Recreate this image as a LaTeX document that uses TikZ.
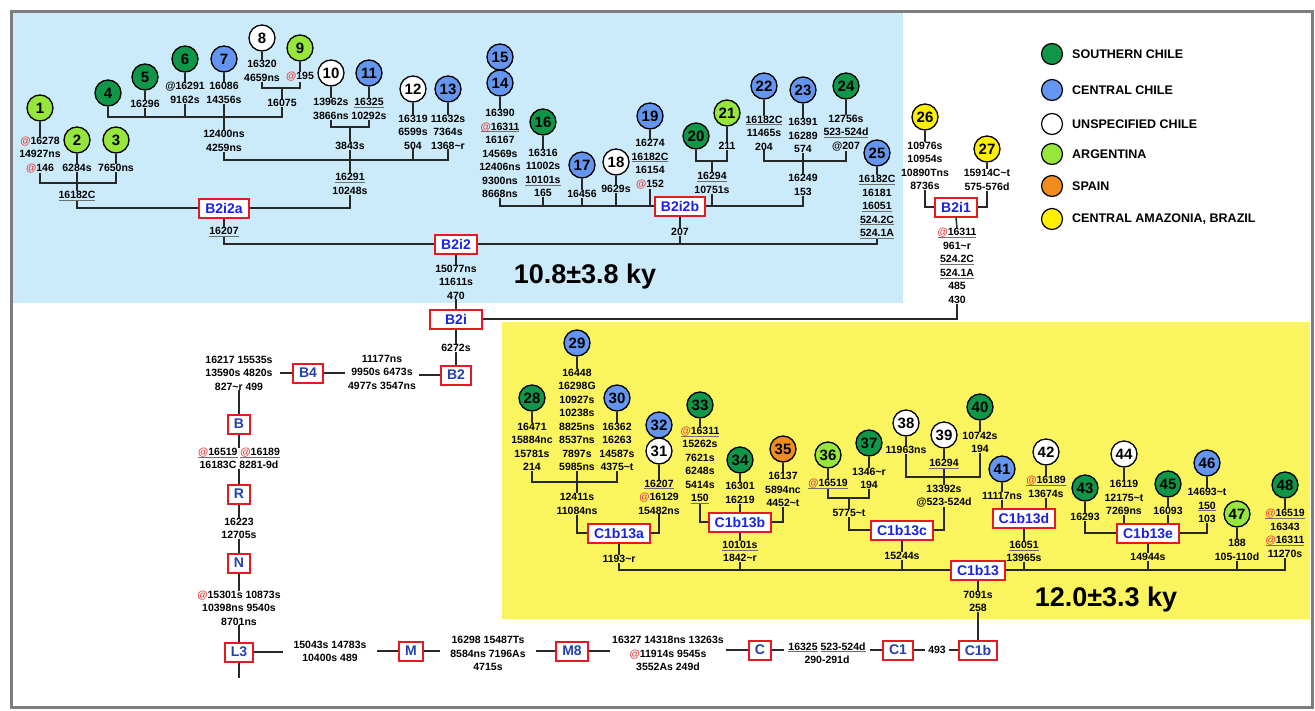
\documentclass[tikz,border=0pt]{standalone}
\usepackage{fontspec}
\setmainfont{Liberation Sans}
\usetikzlibrary{calc}
\definecolor{bgblue}{RGB}{204,235,250}
\definecolor{bgyellow}{RGB}{250,245,95}
\definecolor{scg}{RGB}{16,150,72}
\definecolor{ccb}{RGB}{100,150,240}
\definecolor{arg}{RGB}{150,230,60}
\definecolor{spo}{RGB}{240,140,30}
\definecolor{amy}{RGB}{255,240,0}
\definecolor{boxred}{RGB}{230,25,35}
\definecolor{hgblue}{RGB}{25,35,225}
\definecolor{hgdark}{RGB}{35,65,175}
\definecolor{atred}{RGB}{230,60,60}
\definecolor{ulgray}{RGB}{110,110,110}
\definecolor{lncol}{RGB}{40,40,40}
\definecolor{framegray}{RGB}{125,125,125}
\newcommand\rat{\textcolor{atred}{@}}
\newcommand\tld{\char"007E\relax}
\newcommand\myul[1]{\begingroup\setbox0=\hbox{#1}\rlap{\textcolor{ulgray}{\rule[-2.3pt]{\wd0}{1.1pt}}}\box0\endgroup}
\begin{document}
\begin{tikzpicture}[x=1pt,y=-1pt,
  hcn/.style={circle,draw=black,line width=1.3pt,minimum size=26pt,inner sep=0pt,font=\fontsize{15}{15}\selectfont\bfseries},
  hsc/.style={hcn,fill=scg}, hcc/.style={hcn,fill=ccb}, huc/.style={hcn,fill=white},
  har/.style={hcn,fill=arg}, hsp/.style={hcn,fill=spo}, ham/.style={hcn,fill=amy},
  hlab/.style={align=center,inner sep=0pt,font=\fontsize{10.5}{13.5}\selectfont\bfseries},
  hbox/.style={draw=boxred,line width=2pt,fill=white,text=hgblue,font=\fontsize{14}{14}\selectfont\bfseries,inner xsep=6pt,inner ysep=0pt,minimum height=19pt},
  hboxd/.style={hbox,text=hgdark},
  hline/.style={draw=lncol,line width=1.5pt},
  hleg/.style={circle,draw=black,line width=1.2pt,minimum size=21pt,inner sep=0pt},
  hlegt/.style={anchor=west,inner sep=0pt,font=\fontsize{12.5}{13}\selectfont\bfseries},
  hage/.style={inner sep=0pt,font=\fontsize{27}{27}\selectfont\bfseries}]
\useasboundingbox (0,0) rectangle (1315,710);
\fill[white] (0,0) rectangle (1315,710);
\fill[bgblue] (13,13) rectangle (903,303);
\fill[bgyellow] (502,322) rectangle (1310,619);
\draw[framegray,line width=3pt] (11.5,11.5) rectangle (1312,707.5);

% ---------- B2i2a ----------
\node[har] (n1) at (40,108) {1};
\node[hlab] (l1) at (40,155) {\rat16278\\14927ns\\\rat146};
\node[har] (n2) at (77,140) {2};
\node[hlab] (l2) at (77,168) {6284s};
\node[har] (n3) at (116,140) {3};
\node[hlab] (l3) at (116,168) {7650ns};
\coordinate (j1) at (77,183);
\node[hlab] (k1) at (77,196) {\myul{16182C}};
\node[hsc] (n4) at (108,93) {4};
\node[hsc] (n5) at (145,77) {5};
\node[hlab] (l5) at (145,104) {16296};
\node[hsc] (n6) at (185,59) {6};
\node[hlab] (l6) at (185,93) {@16291\\9162s};
\node[hcc] (n7) at (224,59) {7};
\node[hlab] (l7) at (224,93) {16086\\14356s};
\node[huc] (n8) at (262,38) {8};
\node[hlab] (l8) at (262,71) {16320\\4659ns};
\node[har] (n9) at (300,48) {9};
\node[hlab] (l9) at (300,77) {\rat195};
\coordinate (j89) at (282,88);
\node[hlab] (k4) at (282,103) {16075};
\coordinate (j4) at (224,117);
\node[hlab] (k5) at (224,141) {12400ns\\4259ns};
\node[huc] (n10) at (331,73) {10};
\node[hlab] (l10) at (331,109) {13962s\\3866ns};
\node[hcc] (n11) at (369,73) {11};
\node[hlab] (l11) at (369,109) {\myul{16325}\\10292s};
\coordinate (j1011) at (350,127);
\node[hlab] (k6) at (350,146) {3843s};
\node[huc] (n12) at (413,89) {12};
\node[hlab] (l12) at (413,132) {16319\\6599s\\504};
\node[hcc] (n13) at (448,89) {13};
\node[hlab] (l13) at (448,132) {11632s\\7364s\\1368\tld r};
\coordinate (j2) at (350,160);
\node[hlab] (k2) at (350,184) {\myul{16291}\\10248s};
\node[hbox] (B2i2a) at (224,208) {B2i2a};
\node[hlab] (k3) at (224,232) {\myul{16207}};

% ---------- B2i2b ----------
\node[hcc] (n15) at (500,57) {15};
\node[hcc] (n14) at (500,83) {14};
\node[hlab] (l14) at (500,153.5) {16390\\\myul{\rat16311}\\16167\\14569s\\12406ns\\9300ns\\8668ns};
\node[hsc] (n16) at (543,122) {16};
\node[hlab] (l16) at (543,173) {16316\\11002s\\\myul{10101s}\\165};
\node[hcc] (n17) at (582,165) {17};
\node[hlab] (l17) at (582,194) {16456};
\node[huc] (n18) at (616,162) {18};
\node[hlab] (l18) at (616,189) {9629s};
\node[hcc] (n19) at (650,116) {19};
\node[hlab] (l19) at (650,164) {16274\\\myul{16182C}\\16154\\\rat152};
\node[hbox] (B2i2b) at (680,206) {B2i2b};
\node[hsc] (n20) at (696,136) {20};
\node[har] (n21) at (727,113) {21};
\node[hlab] (l21) at (727,146) {211};
\coordinate (j2021) at (712,161);
\node[hlab] (k7) at (712,183) {\myul{16294}\\10751s};
\node[hcc] (n22) at (764,86) {22};
\node[hlab] (l22) at (764,133) {\myul{16182C}\\11465s\\204};
\node[hcc] (n23) at (803,90) {23};
\node[hlab] (l23) at (803,135.5) {16391\\16289\\574};
\node[hsc] (n24) at (846,86) {24};
\node[hlab] (l24) at (846,133) {12756s\\\myul{523-524d}\\@207};
\coordinate (j2224) at (803,161);
\node[hlab] (k8) at (803,185) {16249\\153};
\node[hlab] (k9) at (680,232) {207};
\node[hcc] (n25) at (877,153) {25};
\node[hlab] (l25) at (877,207) {\myul{16182C}\\16181\\\myul{16051}\\\myul{524.2C}\\\myul{524.1A}};

% ---------- B2i2 / B2i1 ----------
\node[hbox] (B2i2) at (456,244) {B2i2};
\node[hlab] (k10) at (456,282) {15077ns\\11611s\\470};
\node[hage] (age1) at (585,277) {10.8±3.8 ky};
\node[hbox,minimum width=52pt] (B2i) at (456,319) {B2i};
\node[ham] (n26) at (925,117) {26};
\node[hlab] (l26) at (925,166) {10976s\\10954s\\10890Tns\\8736s};
\node[ham] (n27) at (987,149) {27};
\node[hlab] (l27) at (987,180) {15914C\tld t\\575-576d};
\node[hbox] (B2i1) at (956,207) {B2i1};
\node[hlab] (k11) at (957,266) {\myul{\rat16311}\\961\tld r\\\myul{524.2C}\\\myul{524.1A}\\485\\430};

% ---------- backbone ----------
\node[hlab] (k12) at (456,348) {6272s};
\node[hboxd] (B2) at (456,375) {B2};
\node[hlab,inner xsep=3pt] (k13) at (382,372) {11177ns\\9950s 6473s\\4977s 3547ns};
\node[hboxd] (B4) at (308,373) {B4};
\node[hlab,inner xsep=7pt] (k14) at (239,373) {16217 15535s\\13590s 4820s\\827\tld r 499};
\node[hboxd] (B) at (239,424) {B};
\node[hlab] (k15) at (239,458.5) {\myul{\rat16519} \myul{\rat16189}\\16183C 8281-9d};
\node[hboxd] (R) at (239,494) {R};
\node[hlab] (k16) at (239,528.5) {16223\\12705s};
\node[hboxd] (N) at (239,563) {N};
\node[hlab] (k17) at (239,608) {\rat15301s 10873s\\10398ns 9540s\\8701ns};
\node[hboxd] (L3) at (239,652) {L3};
\coordinate (L3end) at (239,678);
\node[hlab,inner xsep=10pt] (k18) at (330,651.5) {15043s 14783s\\10400s 489};
\node[hboxd] (M) at (411,651) {M};
\node[hlab,inner xsep=10pt] (k19) at (488,653.5) {16298 15487Ts\\8584ns 7196As\\4715s};
\node[hboxd] (M8) at (572,651) {M8};
\node[hlab,inner xsep=2pt] (k20) at (668,653.5) {16327 14318ns 13263s\\\rat11914s 9545s\\3552As 249d};
\node[hboxd] (C) at (760,650) {C};
\node[hlab,inner xsep=4pt] (k21) at (827,653) {\myul{16325} \myul{523-524d}\\290-291d};
\node[hboxd] (C1) at (898,650) {C1};
\node[hlab,inner xsep=3pt] (k22) at (937,650) {493};
\node[hboxd] (C1b) at (978,650) {C1b};
\node[hlab] (k23) at (978,601.5) {7091s\\258};
\node[hbox] (C1b13) at (978,570) {C1b13};
\node[hage] (age2) at (1106,600) {12.0±3.3 ky};

% ---------- C1b13a ----------
\node[hsc] (n28) at (532,398) {28};
\node[hlab] (l28) at (532,447) {16471\\15884nc\\15781s\\214};
\node[hcc] (n29) at (577,343) {29};
\node[hlab] (l29) at (577,420) {16448\\16298G\\10927s\\10238s\\8825ns\\8537ns\\7897s\\5985ns};
\node[hcc] (n30) at (617,398) {30};
\node[hlab] (l30) at (617,447) {16362\\16263\\14587s\\4375\tld t};
\coordinate (j2830) at (577,482);
\node[hlab] (k29) at (577,504) {12411s\\11084ns};
\node[hcc] (n32) at (659,425) {32};
\node[huc] (n31) at (659,451) {31};
\node[hlab] (l31) at (659,497) {\myul{16207}\\\rat16129\\15482ns};
\node[hbox] (C1b13a) at (619,533) {C1b13a};
\node[hlab] (k24) at (619,559) {1193\tld r};

% ---------- C1b13b ----------
\node[hsc] (n33) at (700,405) {33};
\node[hlab] (l33) at (700,465.5) {\myul{\rat16311}\\15262s\\7621s\\6248s\\5414s\\\myul{150}};
\node[hsc] (n34) at (740,460) {34};
\node[hlab] (l34) at (740,493) {16301\\16219};
\node[hsp] (n35) at (783,449) {35};
\node[hlab] (l35) at (783,489.5) {16137\\5894nc\\4452\tld t};
\node[hbox] (C1b13b) at (740,522) {C1b13b};
\node[hlab] (k25) at (740,551.5) {\myul{10101s}\\1842\tld r};

% ---------- C1b13c ----------
\node[har] (n36) at (828,455) {36};
\node[hlab] (l36) at (828,484) {\myul{\rat16519}};
\node[hsc] (n37) at (869,443) {37};
\node[hlab] (l37) at (869,478.5) {1346\tld r\\194};
\coordinate (j3637) at (849,498);
\node[hlab] (k30) at (849,513) {5775\tld t};
\node[huc] (n38) at (906,423) {38};
\node[hlab] (l38) at (906,450) {11963ns};
\node[huc] (n39) at (944,435) {39};
\node[hlab] (l39) at (944,464) {\myul{16294}};
\node[hsc] (n40) at (980,407) {40};
\node[hlab] (l40) at (980,442.5) {10742s\\194};
\coordinate (j3840) at (944,477);
\node[hlab] (k31) at (944,496) {13392s\\@523-524d};
\node[hbox] (C1b13c) at (902,530) {C1b13c};
\node[hlab] (k26) at (902,556) {15244s};

% ---------- C1b13d ----------
\node[hcc] (n41) at (1002,469) {41};
\node[hlab] (l41) at (1002,496) {11117ns};
\node[huc] (n42) at (1046,452) {42};
\node[hlab] (l42) at (1046,487) {\myul{\rat16189}\\13674s};
\node[hbox] (C1b13d) at (1024,518) {C1b13d};
\node[hlab] (k27) at (1024,551.5) {\myul{16051}\\13965s};

% ---------- C1b13e ----------
\node[hsc] (n43) at (1085,488) {43};
\node[hlab] (l43) at (1085,517) {16293};
\node[huc] (n44) at (1124,454) {44};
\node[hlab] (l44) at (1124,497.5) {16119\\12175\tld t\\7269ns};
\node[hsc] (n45) at (1168,484) {45};
\node[hlab] (l45) at (1168,511) {16093};
\node[hcc] (n46) at (1207,463) {46};
\node[hlab] (l46) at (1207,505.5) {14693\tld t\\\myul{150}\\103};
\node[hbox] (C1b13e) at (1148,533) {C1b13e};
\node[hlab] (k28) at (1148,557) {14944s};
\node[har] (n47) at (1237,514) {47};
\node[hlab] (l47) at (1237,550) {188\\105-110d};
\node[hsc] (n48) at (1285,485) {48};
\node[hlab] (l48) at (1285,533.5) {\myul{\rat16519}\\16343\\\myul{\rat16311}\\11270s};

% ---------- legend ----------
\node[hleg,fill=scg] (g1) at (1052,54) {};
\node[hlegt] (t1) at (1072,54) {SOUTHERN CHILE};
\node[hleg,fill=ccb] (g2) at (1052,90) {};
\node[hlegt] (t2) at (1072,90) {CENTRAL CHILE};
\node[hleg,fill=white] (g3) at (1052,124) {};
\node[hlegt] (t3) at (1072,124) {UNSPECIFIED CHILE};
\node[hleg,fill=arg] (g4) at (1052,154) {};
\node[hlegt] (t4) at (1072,154) {ARGENTINA};
\node[hleg,fill=spo] (g5) at (1052,186) {};
\node[hlegt] (t5) at (1072,186) {SPAIN};
\node[hleg,fill=amy] (g6) at (1052,219) {};
\node[hlegt] (t6) at (1072,219) {CENTRAL AMAZONIA, BRAZIL};

% ---------- connectors ----------
\foreach \a/\b in {n1/l1,n2/l2,n3/l3,n5/l5,n6/l6,n7/l7,n8/l8,n9/l9,n10/l10,n11/l11,n12/l12,n13/l13,
  n14/l14,n16/l16,n17/l17,n18/l18,n19/l19,n21/l21,n22/l22,n23/l23,n24/l24,n25/l25,n26/l26,n27/l27,
  n28/l28,n29/l29,n30/l30,n31/l31,n33/l33,n34/l34,n35/l35,n36/l36,n37/l37,n38/l38,n39/l39,n40/l40,
  n41/l41,n42/l42,n43/l43,n44/l44,n45/l45,n46/l46,n47/l47,n48/l48}
  \draw[hline] (\a.south) -- (\b.north);
% B2i2a
\draw[hline] (l1.south) |- (j1) -| (l3.south);
\draw[hline] (l2.south) -- (k1.north);
\draw[hline] (l8.south) |- (j89) -| (l9.south);
\draw[hline] (j89) -- (k4.north);
\draw[hline] (n4.south) |- (j4) -| (k4.south);
\draw[hline] (l5.south) -- (l5.south |- j4);
\draw[hline] (l6.south) -- (l6.south |- j4);
\draw[hline] (l7.south) -- (k5.north);
\draw[hline] (l10.south) |- (j1011) -| (l11.south);
\draw[hline] (j1011) -- (k6.north);
\draw[hline] (k5.south) |- (j2) -| (l13.south);
\draw[hline] (l12.south) -- (l12.south |- j2);
\draw[hline] (k6.south) -- (k2.north);
\draw[hline] (k1.south) |- (B2i2a.west);
\draw[hline] (B2i2a.east) -| (k2.south);
\draw[hline] (B2i2a.south) -- (k3.north);
\draw[hline] (k3.south) |- (B2i2.west);
% B2i2b
\draw[hline] (l14.south) |- (B2i2b.west);
\foreach \c in {l16,l17,l18,l19} \draw[hline] (\c.south) -- (\c.south |- B2i2b.west);
\draw[hline] (n20.south) |- (j2021) -| (l21.south);
\draw[hline] (j2021) -- (k7.north);
\draw[hline] (k7.south) -- (k7.south |- B2i2b.east);
\draw[hline] (l22.south) |- (j2224) -| (l24.south);
\draw[hline] (l23.south) -- (k8.north);
\draw[hline] (B2i2b.east) -| (k8.south);
\draw[hline] (B2i2b.south) -- (k9.north);
\draw[hline] (k9.south) -- (k9.south |- B2i2.east);
\draw[hline] (B2i2.east) -| (l25.south);
\draw[hline] (B2i2.south) -- (k10.north);
\draw[hline] (k10.south) -- (B2i.north);
% B2i1
\draw[hline] (l26.south) |- (B2i1.west);
\draw[hline] (l27.south) |- (B2i1.east);
\draw[hline] (B2i1.south) -- (k11.north);
\draw[hline] (B2i.east) -| (k11.south);
% backbone
\draw[hline] (B2i.south) -- (k12.north);
\draw[hline] (k12.south) -- (B2.north);
\draw[hline] (B2.west) -- (B2.west -| k13.east);
\draw[hline] (B4.east) -- (B4.east -| k13.west);
\draw[hline] (B4.west) -- (B4.west -| k14.east);
\draw[hline] (k14.south) -- (B.north);
\draw[hline] (B.south) -- (k15.north);
\draw[hline] (k15.south) -- (R.north);
\draw[hline] (R.south) -- (k16.north);
\draw[hline] (k16.south) -- (N.north);
\draw[hline] (N.south) -- (k17.north);
\draw[hline] (k17.south) -- (L3.north);
\draw[hline] (L3.south) -- (L3end);
\draw[hline] (L3.east) -- (L3.east -| k18.west);
\draw[hline] (M.west) -- (M.west -| k18.east);
\draw[hline] (M.east) -- (M.east -| k19.west);
\draw[hline] (M8.west) -- (M8.west -| k19.east);
\draw[hline] (M8.east) -- (M8.east -| k20.west);
\draw[hline] (C.west) -- (C.west -| k20.east);
\draw[hline] (C.east) -- (C.east -| k21.west);
\draw[hline] (C1.west) -- (C1.west -| k21.east);
\draw[hline] (C1.east) -- (C1.east -| k22.west);
\draw[hline] (C1b.west) -- (C1b.west -| k22.east);
\draw[hline] (C1b.north) -- (k23.south);
\draw[hline] (k23.north) -- (C1b13.south);
% C1b13
\draw[hline] (l28.south) |- (j2830) -| (l30.south);
\draw[hline] (l29.south) -- (k29.north);
\draw[hline] (k29.south) |- (C1b13a.west);
\draw[hline] (l31.south) |- (C1b13a.east);
\draw[hline] (C1b13a.south) -- (k24.north);
\draw[hline] (C1b13.west) -| (k24.south);
\draw[hline] (C1b13.east) -| (l48.south);
\foreach \c in {k25,k26,k27,k28,l47} \draw[hline] (\c.south) -- (\c.south |- C1b13.west);
\draw[hline] (l33.south) |- (C1b13b.west);
\draw[hline] (l34.south) -- (C1b13b.north);
\draw[hline] (l35.south) |- (C1b13b.east);
\draw[hline] (C1b13b.south) -- (k25.north);
\draw[hline] (l36.south) |- (j3637) -| (l37.south);
\draw[hline] (j3637) -- (k30.north);
\draw[hline] (k30.south) |- (C1b13c.west);
\draw[hline] (l38.south) |- (j3840) -| (l40.south);
\draw[hline] (l39.south) -- (k31.north);
\draw[hline] (k31.south) |- (C1b13c.east);
\draw[hline] (C1b13c.south) -- (k26.north);
\draw[hline] (l41.south) -- (l41.south |- C1b13d.north);
\draw[hline] (l42.south) -- (l42.south |- C1b13d.north);
\draw[hline] (C1b13d.south) -- (k27.north);
\draw[hline] (l43.south) |- (C1b13e.west);
\draw[hline] (l44.south) -- (l44.south |- C1b13e.north);
\draw[hline] (l45.south) -- (l45.south |- C1b13e.north);
\draw[hline] (l46.south) |- (C1b13e.east);
\draw[hline] (C1b13e.south) -- (k28.north);
\end{tikzpicture}
\end{document}
